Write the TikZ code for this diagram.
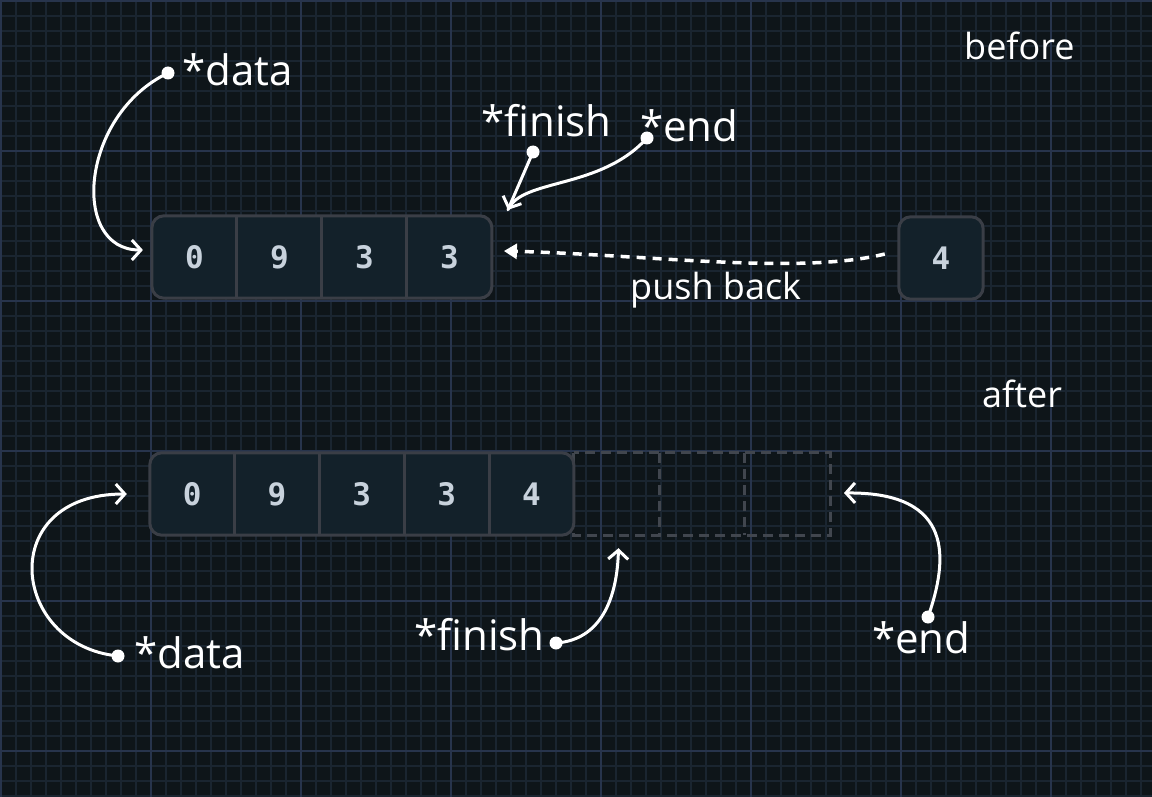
\documentclass[tikz,border=0pt]{standalone}
\usepackage{fontspec}
\newfontfamily\handfont{Open Sans}
\newfontfamily\monofont{DejaVu Sans Mono}
\usetikzlibrary{positioning,arrows.meta,calc}
\definecolor{bgcol}{HTML}{0E1519}
\definecolor{minorcol}{HTML}{1A2530}
\definecolor{majorcol}{HTML}{27344C}
\definecolor{cellcol}{HTML}{13212A}
\definecolor{framecol}{HTML}{3A3E46}
\definecolor{ghostcol}{HTML}{41464E}
\definecolor{digitcol}{HTML}{C8D2DC}
\pgfdeclarelayer{gridlayer}
\pgfdeclarelayer{framelayer}
\pgfsetlayers{gridlayer,framelayer,main}
\tikzset{
  cell/.style={minimum width=84.6pt, minimum height=82pt, inner sep=0pt,
    font=\monofont\bfseries\fontsize{31}{31}\selectfont, text=digitcol},
  frame/.style={draw=framecol, line width=3pt, fill=cellcol, rounded corners=12pt},
  divider/.style={draw=framecol, line width=3pt},
  ghost/.style={draw=ghostcol, line width=3pt, dash pattern=on 10pt off 6pt},
  dot/.style={circle, fill=white, inner sep=0pt, minimum size=13pt},
  pointer/.style={draw=white, line width=3pt, line cap=round,
    -{Straight Barb[length=9pt,width=20pt]}},
  hand/.style={font=\handfont\fontsize{42}{42}\selectfont, text=white,
    inner sep=0pt, anchor=base west},
  handsmall/.style={hand, font=\handfont\fontsize{36}{36}\selectfont},
}
\begin{document}
\begin{tikzpicture}[x=1pt,y=-1pt]
\useasboundingbox (0,0) rectangle (1152,797);
% grid
\begin{pgfonlayer}{gridlayer}
\fill[bgcol] (0,0) rectangle (1152,797);
\foreach \i in {0,...,76} \draw[minorcol,line width=1.3pt] (\i*15+1,0) -- (\i*15+1,797);
\foreach \j in {0,...,53} \draw[minorcol,line width=1.3pt] (0,\j*15+1) -- (1152,\j*15+1);
\foreach \i in {0,...,7} \draw[majorcol,line width=1.8pt] (\i*150+1,0) -- (\i*150+1,797);
\foreach \j in {0,...,5} \draw[majorcol,line width=1.8pt] (0,\j*150+1) -- (1152,\j*150+1);
\end{pgfonlayer}

% before
\node[handsmall] (before) at (964,60) {before};
\node[cell] (t1) at (194.4,257) {0};
\node[cell, right=0pt of t1] (t2) {9};
\node[cell, right=0pt of t2] (t3) {3};
\node[cell, right=0pt of t3] (t4) {3};
\node[cell, minimum width=84pt] (four) at (941,258) {4};
\begin{pgfonlayer}{framelayer}
\draw[frame] (t1.north west) rectangle (t4.south east);
\draw[frame] (four.north west) rectangle (four.south east);
\end{pgfonlayer}
\foreach \c in {t1,t2,t3} \draw[divider] (\c.north east) -- (\c.south east);

\node[dot] (dData) at (168,73) {};
\node[hand] (lData) at (182,86) {*data};
\node[dot] (dFinish) at (533,152) {};
\node[hand] (lFinish) at (481,137) {*finish};
\node[dot] (dEnd) at (647,138) {};
\node[hand] (lEnd) at (640,142) {*end};
\coordinate (tipTop) at ($(t4.north east)+(16,-6)$);

\draw[pointer] (dData.center) .. controls (80,115) and (70,250) .. ($(t1.west)+(-9,-7)$);
\draw[draw=white, line width=3pt, line cap=round] (dEnd.center) .. controls (600,190) and (522,178) .. (tipTop);
\draw[pointer] (dFinish.center) -- (tipTop);
\draw[draw=white, line width=3.5pt, dash pattern=on 9pt off 7pt, -{Triangle[length=13pt,width=15pt]}]
  ($(four.west)+(-14,-4)$) .. controls (800,275) and (650,255) .. ($(t4.east)+(12,-6)$);
\node[handsmall] (lPush) at (630,299) {push back};

% after
\node[handsmall] (after) at (982,407) {after};
\node[cell, minimum width=84.4pt] (b1) at (192.2,494) {0};
\node[cell, minimum width=84.4pt, right=0pt of b1] (b2) {9};
\node[cell, minimum width=84.4pt, right=0pt of b2] (b3) {3};
\node[cell, minimum width=84.4pt, right=0pt of b3] (b4) {3};
\node[cell, minimum width=84.4pt, right=0pt of b4] (b5) {4};
\node[cell, minimum width=85pt, right=0pt of b5] (e1) {};
\node[cell, minimum width=85pt, right=0pt of e1] (e2) {};
\node[cell, minimum width=85pt, right=0pt of e2] (e3) {};
\begin{pgfonlayer}{framelayer}
\draw[ghost] (e1.north west) rectangle (e3.south east);
\draw[ghost] (e1.north east) -- (e1.south east);
\draw[ghost] (e2.north east) -- (e2.south east);
\draw[frame] (b1.north west) rectangle (b5.south east);
\end{pgfonlayer}
\foreach \c in {b1,b2,b3,b4} \draw[divider] (\c.north east) -- (\c.south east);

\node[dot] (dData2) at (118,656) {};
\node[hand] (lData2) at (134,668) {*data};
\node[dot] (dFinish2) at (556,643) {};
\node[hand] (lFinish2) at (414,650) {*finish};
\node[dot] (dEnd2) at (928,617) {};
\node[hand] (lEnd2) at (872,653) {*end};

\draw[pointer] (dData2.center) .. controls (10,645) and (-5,494) .. ($(b1.west)+(-23,0)$);
\draw[pointer] (dFinish2.center) .. controls (600,640) and (617,600) .. ($(e1.south)+(2,13)$);
\draw[pointer] (dEnd2.center) .. controls (948,560) and (955,492) .. ($(e3.east)+(14,-1)$);
\end{tikzpicture}
\end{document}
